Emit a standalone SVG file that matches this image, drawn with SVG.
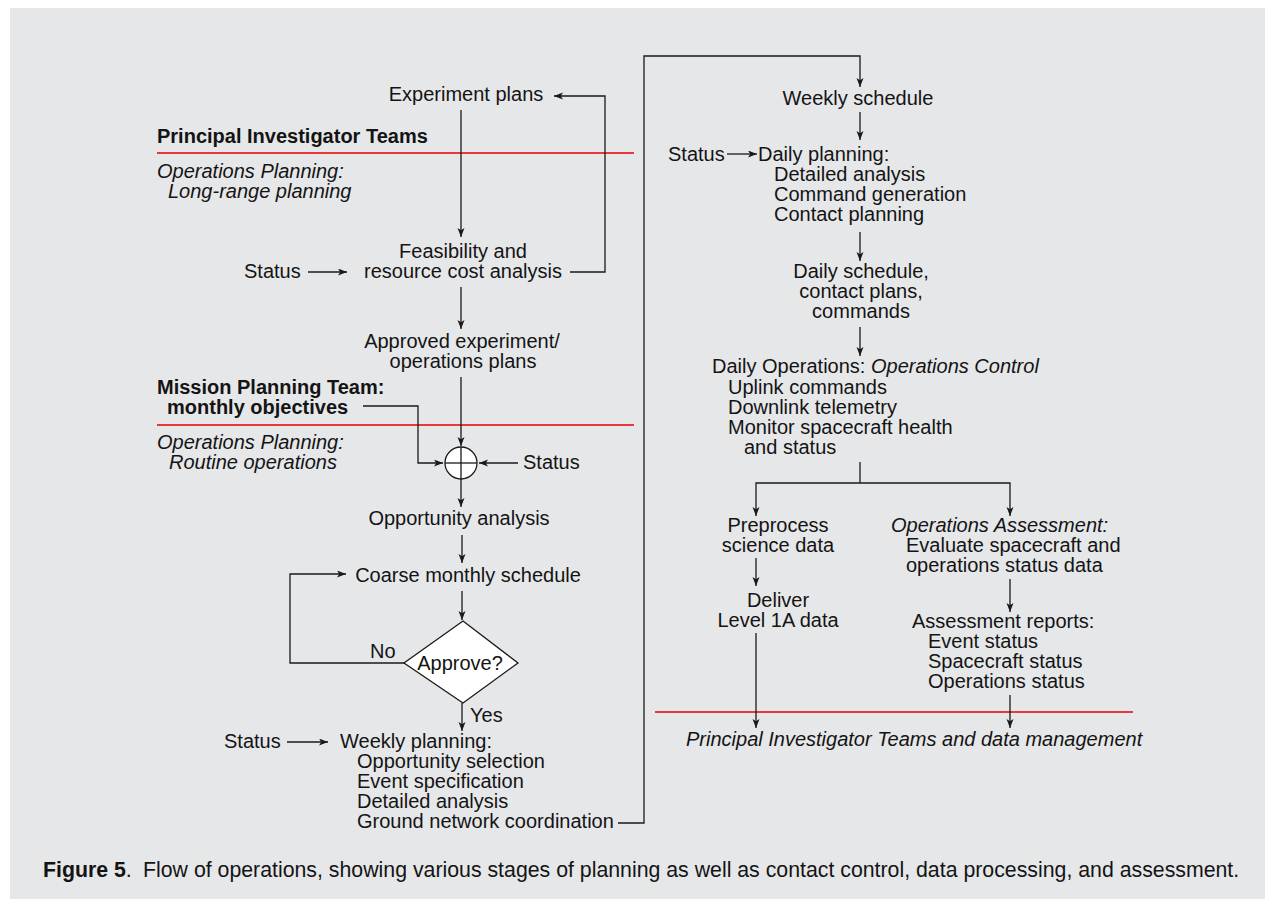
<svg xmlns="http://www.w3.org/2000/svg" width="1265" height="900" viewBox="0 0 1265 900">
<style>
  text { font-family: "Liberation Sans", Arial, sans-serif; font-size: 20px; fill: #141414; }
  .c { text-anchor: middle; }
  .b { font-weight: bold; }
  .i { font-style: italic; }
  .ln { fill: none; stroke: #1a1a1a; stroke-width: 1.3; }
  .arr { marker-end: url(#ah); }
  .red { stroke: #e8383d; stroke-width: 2; fill: none; }
  .shape { fill: #ffffff; stroke: #1a1a1a; stroke-width: 1.3; }
  .cap { font-size: 21.3px; }
</style>
<defs>
  <marker id="ah" markerUnits="userSpaceOnUse" markerWidth="12" markerHeight="10" refX="9" refY="3.5" orient="auto">
    <path d="M0,0 L9,3.5 L0,7 L2.2,3.5 Z" fill="#1a1a1a"/>
  </marker>
</defs>
<rect x="10" y="8" width="1255" height="891" fill="#e6e7e9"/>

<g id="lanes">
  <line class="red" x1="157" y1="153" x2="634" y2="153"/>
  <line class="red" x1="157" y1="425" x2="634" y2="425"/>
  <line class="red" x1="655" y1="712" x2="1133" y2="712"/>
  <text x="157" y="143" class="b">Principal Investigator Teams</text>
  <text x="157" y="178" class="i">Operations Planning:</text>
  <text x="168" y="198" class="i">Long-range planning</text>
  <text x="157" y="394" class="b">Mission Planning Team:</text>
  <text x="167" y="414" class="b">monthly objectives</text>
  <text x="157" y="449" class="i">Operations Planning:</text>
  <text x="169" y="469" class="i">Routine operations</text>
</g>

<g id="connectors">
  <line class="ln arr" x1="461" y1="110" x2="461" y2="237"/>
  <path class="ln arr" d="M570,272 H605 V96 H554"/>
  <line class="ln arr" x1="308" y1="272" x2="347" y2="272"/>
  <line class="ln arr" x1="461" y1="287" x2="461" y2="329"/>
  <line class="ln arr" x1="461" y1="377" x2="461" y2="446"/>
  <path class="ln arr" d="M363,406 H418 V463 H443"/>
  <line class="ln arr" x1="518" y1="463" x2="479" y2="463"/>
  <line class="ln arr" x1="461" y1="479" x2="461" y2="507"/>
  <line class="ln arr" x1="462" y1="535" x2="462" y2="563"/>
  <line class="ln arr" x1="462" y1="591" x2="462" y2="620"/>
  <path class="ln arr" d="M404,663 H290 V574 H346"/>
  <line class="ln arr" x1="462" y1="703" x2="462" y2="731"/>
  <line class="ln arr" x1="287" y1="742" x2="328" y2="742"/>
  <path class="ln arr" d="M618,823 H644 V56 H860 V87"/>
  <line class="ln arr" x1="860" y1="112" x2="860" y2="140"/>
  <line class="ln arr" x1="727" y1="154" x2="757" y2="154"/>
  <line class="ln arr" x1="860" y1="232" x2="860" y2="261"/>
  <line class="ln arr" x1="860" y1="327" x2="860" y2="356"/>
  <line class="ln" x1="860" y1="462" x2="860" y2="483"/>
  <path class="ln arr" d="M860,483 H756 V516"/>
  <path class="ln arr" d="M860,483 H1010 V516"/>
  <line class="ln arr" x1="756" y1="558" x2="756" y2="586"/>
  <line class="ln arr" x1="756" y1="633" x2="756" y2="728"/>
  <line class="ln arr" x1="1010" y1="579" x2="1010" y2="612"/>
  <line class="ln arr" x1="1010" y1="695" x2="1010" y2="728"/>
</g>

<g id="experiment-plans"><text x="466" y="101" class="c">Experiment plans</text></g>
<g id="feasibility">
  <text x="463" y="258" class="c">Feasibility and</text>
  <text x="463" y="278" class="c">resource cost analysis</text>
</g>
<g id="status-1"><text x="244" y="278">Status</text></g>
<g id="approved-plans">
  <text x="462" y="348" class="c">Approved experiment/</text>
  <text x="463" y="368" class="c">operations plans</text>
</g>
<g id="summing-junction">
  <circle class="shape" cx="461" cy="463" r="16"/>
  <line class="ln" x1="461" y1="447" x2="461" y2="479"/>
  <line class="ln" x1="445" y1="463" x2="477" y2="463"/>
</g>
<g id="status-2"><text x="523" y="469">Status</text></g>
<g id="opportunity-analysis"><text x="459" y="525" class="c">Opportunity analysis</text></g>
<g id="coarse-schedule"><text x="468" y="582" class="c">Coarse monthly schedule</text></g>
<g id="approve">
  <polygon class="shape" points="463,621 518,663 463,703 404,663"/>
  <text x="460" y="670" class="c">Approve?</text>
  <text x="370" y="658">No</text>
  <text x="470" y="722">Yes</text>
</g>
<g id="status-3"><text x="224" y="748">Status</text></g>
<g id="weekly-planning">
  <text x="340" y="748">Weekly planning:</text>
  <text x="357" y="768">Opportunity selection</text>
  <text x="357" y="788">Event specification</text>
  <text x="357" y="808">Detailed analysis</text>
  <text x="357" y="828">Ground network coordination</text>
</g>
<g id="weekly-schedule"><text x="858" y="105" class="c">Weekly schedule</text></g>
<g id="status-4"><text x="668" y="161">Status</text></g>
<g id="daily-planning">
  <text x="758" y="161">Daily planning:</text>
  <text x="774" y="181">Detailed analysis</text>
  <text x="774" y="201">Command generation</text>
  <text x="774" y="221">Contact planning</text>
</g>
<g id="daily-schedule">
  <text x="861" y="278" class="c">Daily schedule,</text>
  <text x="861" y="298" class="c">contact plans,</text>
  <text x="861" y="318" class="c">commands</text>
</g>
<g id="daily-operations">
  <text x="712" y="373">Daily Operations: <tspan class="i">Operations Control</tspan></text>
  <text x="728" y="394">Uplink commands</text>
  <text x="728" y="414">Downlink telemetry</text>
  <text x="728" y="434">Monitor spacecraft health</text>
  <text x="744" y="454">and status</text>
</g>
<g id="preprocess">
  <text x="778" y="532" class="c">Preprocess</text>
  <text x="778" y="552" class="c">science data</text>
</g>
<g id="deliver">
  <text x="778" y="607" class="c">Deliver</text>
  <text x="778" y="627" class="c">Level 1A data</text>
</g>
<g id="operations-assessment">
  <text x="891" y="532" class="i">Operations Assessment:</text>
  <text x="906" y="552">Evaluate spacecraft and</text>
  <text x="906" y="572">operations status data</text>
</g>
<g id="assessment-reports">
  <text x="912" y="628">Assessment reports:</text>
  <text x="928" y="648">Event status</text>
  <text x="928" y="668">Spacecraft status</text>
  <text x="928" y="688">Operations status</text>
</g>
<g id="pi-data-management"><text x="686" y="746" class="i">Principal Investigator Teams and data management</text></g>

<g id="caption">
  <text x="43" y="877" class="cap"><tspan class="b">Figure 5</tspan>.<tspan x="143">Flow of operations, showing various stages of planning as well as contact control, data processing, and assessment.</tspan></text>
</g>
</svg>
